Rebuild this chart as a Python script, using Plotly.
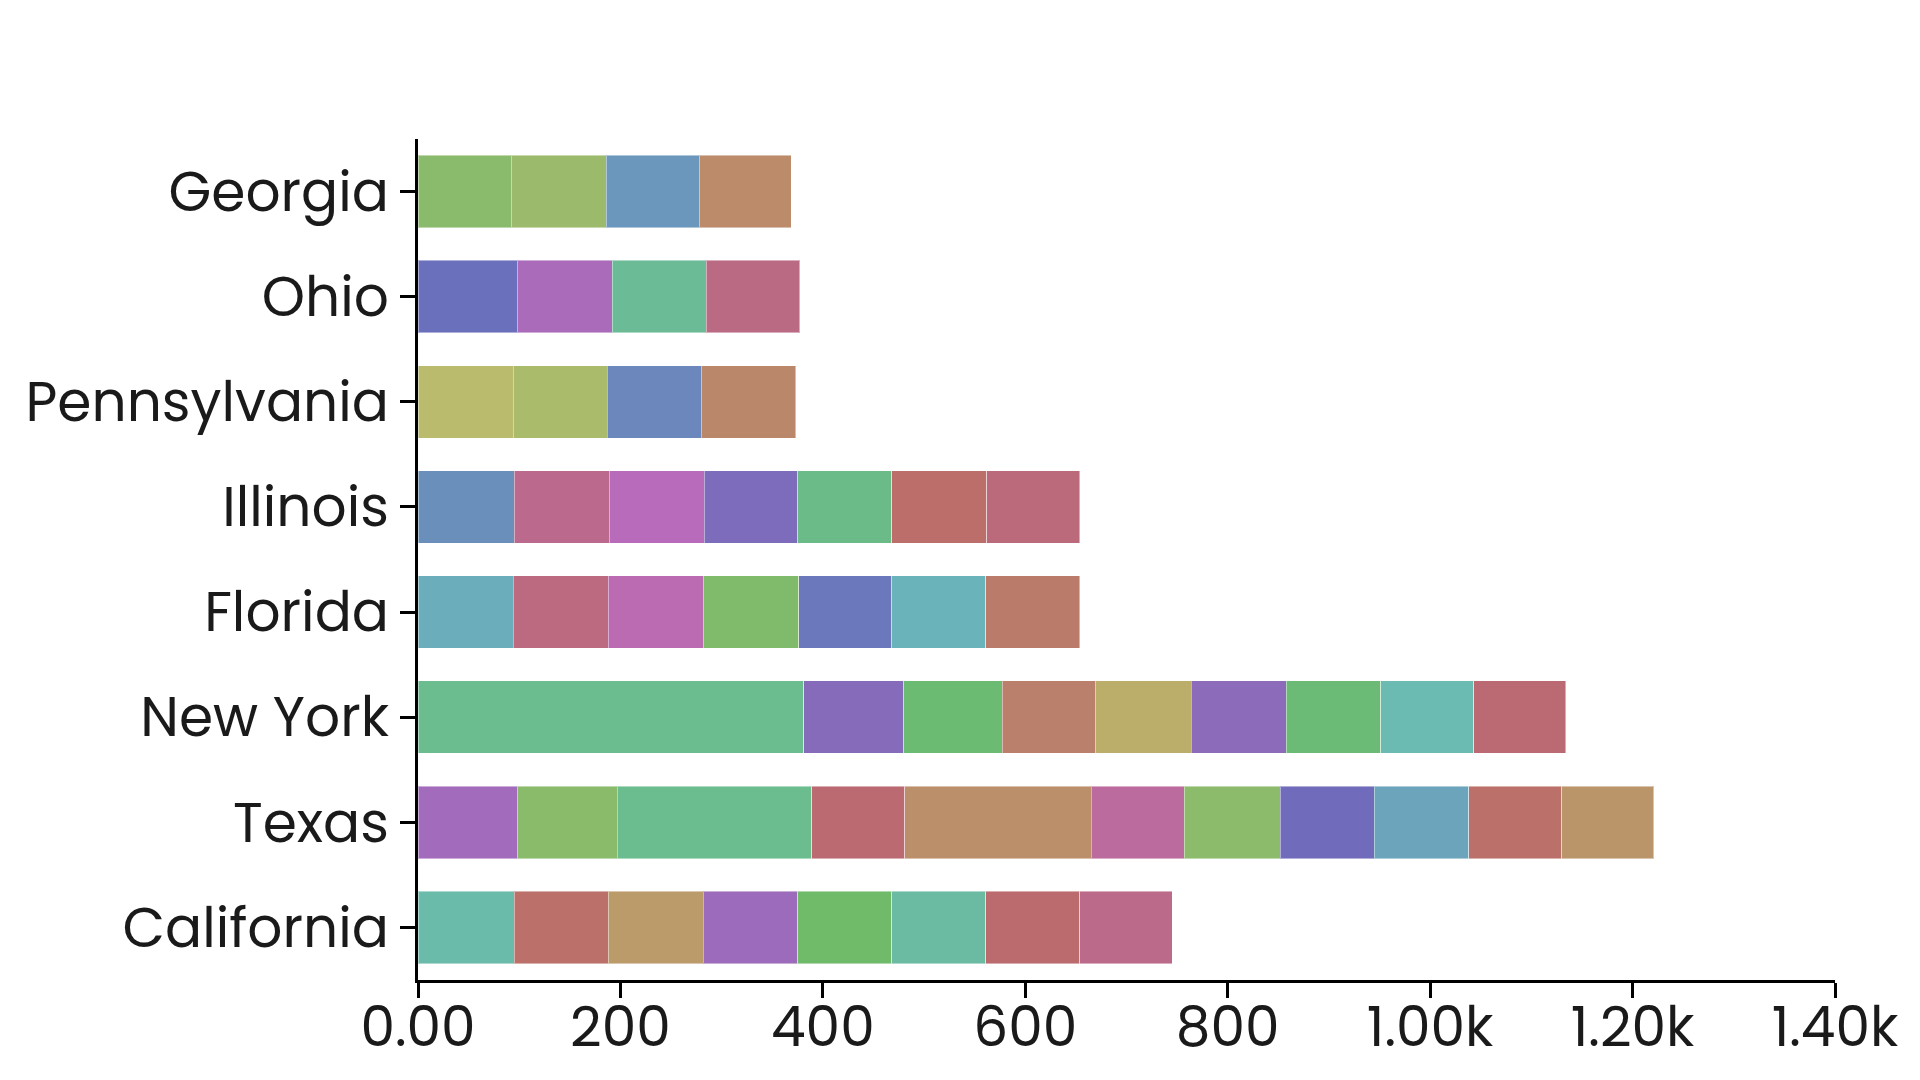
import plotly.graph_objects as go

# States, bottom to top
states = ["California", "Texas", "New York", "Florida", "Illinois", "Pennsylvania", "Ohio", "Georgia"]

# Segment values per state
california = [95, 93, 94, 93, 93, 93, 93, 91]
texas = [98, 99, 192, 92, 184, 92, 95, 93, 93, 92, 91]
new_york = [381, 99, 97, 92, 95, 94, 93, 92, 91]
florida = [94, 94, 94, 94, 92, 93, 93]
illinois = [95, 94, 94, 92, 93, 94, 92]
pennsylvania = [94, 93, 93, 93]
ohio = [98, 94, 93, 92]
georgia = [92, 94, 92, 91]

# Segment colours per state
california_colors = ["#6bbbaa", "#bb716a", "#bb9b6a", "#9c6bbb", "#6fbb6a", "#6bbba3", "#bb6a6d", "#bb6a89"]
texas_colors = ["#a36bbb", "#89bb6b", "#6bbd8f", "#bb6a71", "#bb8f6a", "#bb6b9e", "#8cbb6b", "#706bbb",
                "#6ba4bb", "#bb716a", "#bb956a"]
new_york_colors = ["#6bbd8f", "#866bbb", "#6bbb72", "#bb806b", "#bbae6b", "#8c6bbb", "#6bbb77", "#6bbbb3", "#bb6a73"]
florida_colors = ["#6badbb", "#bb6a7f", "#bb6bb1", "#7fbb6b", "#6b78bb", "#6bb3bb", "#bb7b6a"]
illinois_colors = ["#6b8fbb", "#bb6a8d", "#b96bbb", "#7d6bbb", "#6bbb88", "#bb6e6a", "#bb6a7b"]
pennsylvania_colors = ["#bbbb6d", "#aabb6b", "#6b87bb", "#bb876b"]
ohio_colors = ["#6a70bb", "#aa6bbb", "#6bbb97", "#bb6a84"]
georgia_colors = ["#8aba6b", "#9cba6b", "#6a97bb", "#bb8b6a"]

values = [california, texas, new_york, florida, illinois, pennsylvania, ohio, georgia]
colors = [california_colors, texas_colors, new_york_colors, florida_colors,
          illinois_colors, pennsylvania_colors, ohio_colors, georgia_colors]

fig = go.Figure()

# one trace per segment position, stacked
n_max = max(len(v) for v in values)
for i in range(n_max):
    xs, ys, cs = [], [], []
    for state, vals, cols in zip(states, values, colors):
        if i < len(vals):
            xs.append(vals[i])
            ys.append(state)
            cs.append(cols[i])
    fig.add_trace(go.Bar(
        x=xs,
        y=ys,
        orientation="h",
        marker=dict(color=cs, line=dict(color="rgba(255,255,255,0.45)", width=1)),
        showlegend=False,
    ))

fig.update_layout(
    barmode="stack",
    bargap=0.31,
    width=1920,
    height=1080,
    margin=dict(l=410, r=93, t=131, b=108, pad=0),
    plot_bgcolor="white",
    paper_bgcolor="white",
    font=dict(family="Poppins, Lato, sans-serif", size=55, color="#1a1a1a"),
    xaxis=dict(
        range=[0, 1400],
        dtick=200,
        tickformat=".3s",
        showgrid=False,
        zeroline=False,
        showline=True,
        linecolor="black",
        linewidth=3,
        ticks="outside",
        ticklen=15,
        tickwidth=3,
        tickcolor="black",
        ticklabelstandoff=-18,
    ),
    yaxis=dict(
        categoryorder="array",
        categoryarray=states,
        showgrid=False,
        showline=True,
        linecolor="black",
        linewidth=3,
        ticks="outside",
        ticklen=15,
        tickwidth=3,
        tickcolor="black",
    ),
)

fig.write_html("out.html")
